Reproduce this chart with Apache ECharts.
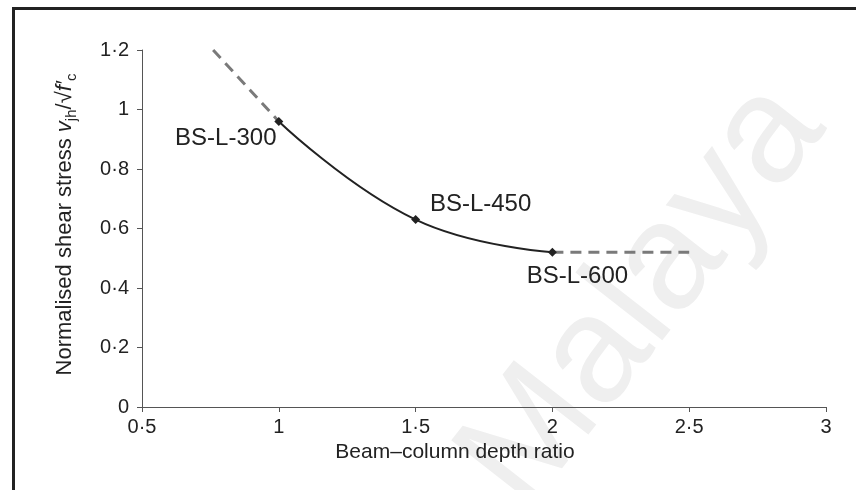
<!DOCTYPE html>
<html>
<head>
<meta charset="utf-8">
<script src="https://cdn.jsdelivr.net/npm/echarts@6/dist/echarts.min.js"></script>
<style>
  html, body { margin: 0; padding: 0; background: #fff; }
  #chart { width: 856px; height: 490px; }
</style>
</head>
<body>
<div id="chart"></div>
<script>
// specimens: beam-column depth ratio vs normalised shear stress
const ratios = [1, 1.5, 2]
const stress = [0.96, 0.63, 0.52]
const specimens = ["BS-L-300", "BS-L-450", "BS-L-600"]

// dashed extrapolations at both ends
const leftExtX = [0.76, 1]
const leftExtY = [1.2, 0.96]
const rightExtX = [2, 2.5]
const rightExtY = [0.52, 0.52]

const xTicks = ["0·5", "1", "1·5", "2", "2·5", "3"]
const yTicks = ["0", "0·2", "0·4", "0·6", "0·8", "1", "1·2"]

const textColor = "#222"
const font = "Liberation Sans"

// where each specimen label sits relative to its point
const labelOffsets = [[-53, 17], [65, -15], [25, 24]]

const chart = echarts.init(document.getElementById("chart"), null, { renderer: "canvas" })

const pts = ratios.map((r, i) => ({
  value: [r, stress[i]],
  label: {
    show: true,
    formatter: specimens[i],
    position: "inside",
    offset: labelOffsets[i],
    color: textColor,
    fontSize: 24,
    fontFamily: font,
  },
}))

const option = {
  animation: false,
  graphic: [
    {
      type: "text",
      z: -10,
      x: 433,
      y: 442,
      rotation: (52 * Math.PI) / 180,
      style: {
        text: "Malaya",
        font: "152px Liberation Sans",
        fill: "#efefef",
      },
      silent: true,
    },
    {
      type: "rect",
      z: 100,
      shape: { x: 13.5, y: 8.5, width: 900, height: 520 },
      style: { stroke: "#222", lineWidth: 3, fill: "none" },
      silent: true,
    },
  ],
  grid: { left: 142, right: 30, top: 50, bottom: 83 },
  xAxis: {
    type: "value",
    min: 0.5,
    max: 3,
    interval: 0.5,
    name: "Beam–column depth ratio",
    nameLocation: "middle",
    nameGap: 30,
    nameTextStyle: { color: textColor, fontSize: 21, fontFamily: font, padding: [0, 58, 0, 0] },
    axisLine: { show: true, lineStyle: { color: "#555", width: 1 } },
    axisTick: { show: true, length: 5, lineStyle: { color: "#555" } },
    axisLabel: {
      color: textColor,
      fontSize: 20,
      fontFamily: font,
      margin: 10,
      formatter: (v) => xTicks[Math.round((v - 0.5) / 0.5)],
    },
    splitLine: { show: false },
  },
  yAxis: {
    type: "value",
    min: 0,
    max: 1.2,
    interval: 0.2,
    name: "{n|Normalised shear stress }{i|v}{s|jh}{n|/√}{i|f′}{s|c}",
    nameLocation: "middle",
    nameGap: 63,
    nameTextStyle: {
      color: textColor,
      fontSize: 22,
      fontFamily: font,
      padding: [0, 0, 0, 8],
      rich: {
        n: { fontSize: 22, fontFamily: font, color: textColor, lineHeight: 28, verticalAlign: "middle" },
        i: { fontSize: 22, fontFamily: font, fontStyle: "italic", color: textColor, lineHeight: 28, verticalAlign: "middle" },
        s: { fontSize: 15, fontFamily: font, color: textColor, lineHeight: 15, verticalAlign: "bottom" },
      },
    },
    axisLine: { show: true, lineStyle: { color: "#555", width: 1 } },
    axisTick: { show: true, length: 5, lineStyle: { color: "#555" } },
    axisLabel: {
      color: textColor,
      fontSize: 20,
      fontFamily: font,
      margin: 13,
      formatter: (v) => yTicks[Math.round(v / 0.2)],
    },
    splitLine: { show: false },
  },
  series: [
    {
      name: "extrapolation-left",
      type: "line",
      data: leftExtX.map((x, i) => [x, leftExtY[i]]),
      symbol: "none",
      lineStyle: { color: "#7a7a7a", width: 3, type: [11, 7] },
      z: 1,
    },
    {
      name: "extrapolation-right",
      type: "line",
      data: rightExtX.map((x, i) => [x, rightExtY[i]]),
      symbol: "none",
      lineStyle: { color: "#7a7a7a", width: 3, type: [11, 7] },
      z: 1,
    },
    {
      name: "specimens",
      type: "line",
      data: pts,
      smooth: 0.45,
      symbol: "diamond",
      symbolSize: 9,
      itemStyle: { color: "#222" },
      lineStyle: { color: "#222", width: 2 },
      z: 3,
    },
  ],
}

chart.setOption(option)
</script>
</body>
</html>
